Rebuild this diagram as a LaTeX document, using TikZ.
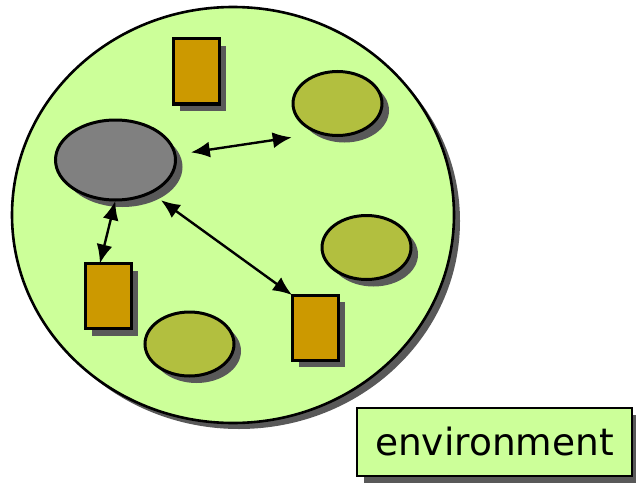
\documentclass[tikz,border=0pt]{standalone}
\usepackage{fontspec}
\setmainfont{DejaVu Sans}
\usetikzlibrary{shapes.geometric,shadows,arrows.meta}
\definecolor{envgreen}{HTML}{CCFF99}
\definecolor{agentgray}{HTML}{808080}
\definecolor{blobolive}{HTML}{B2BF3F}
\definecolor{boxorange}{HTML}{CC9900}
\definecolor{shadowgray}{HTML}{595959}
\newcommand{\ShadowOff}{7pt}
\newcommand{\BlobW}{89pt}
\newcommand{\BlobH}{64pt}
\newcommand{\BoxW}{46pt}
\newcommand{\BoxH}{65pt}
\tikzset{
  castshadow/.style={
    drop shadow={shadow xshift=#1,shadow yshift=-#1,fill=shadowgray,opacity=1}
  },
  worldblob/.style={
    ellipse,draw,line width=2.6pt,fill=envgreen,inner sep=0pt,outer sep=0pt,
    minimum width=442pt,minimum height=416pt,castshadow=6pt
  },
  agentblob/.style={
    ellipse,draw,line width=3pt,fill=agentgray,inner sep=0pt,outer sep=0pt,
    minimum width=120pt,minimum height=80pt,castshadow=\ShadowOff
  },
  thingblob/.style={
    ellipse,draw,line width=3pt,fill=blobolive,inner sep=0pt,outer sep=0pt,
    minimum width=\BlobW,minimum height=\BlobH,castshadow=\ShadowOff
  },
  thingbox/.style={
    rectangle,draw,line width=3pt,fill=boxorange,inner sep=0pt,outer sep=0pt,
    minimum width=\BoxW,minimum height=\BoxH,castshadow=\ShadowOff
  },
  labelbox/.style={
    rectangle,draw,line width=2.6pt,fill=envgreen,inner sep=0pt,outer sep=0pt,
    minimum width=275pt,minimum height=68pt,castshadow=\ShadowOff,
    font=\fontsize{37.5}{44}\selectfont
  },
  talk/.style={
    line width=2.4pt,
    {Latex[length=19pt,width=16pt]}-{Latex[length=19pt,width=16pt]}
  }
}

\begin{document}
\begin{tikzpicture}[x=1pt,y=-1pt]
  \useasboundingbox (0,0) rectangle (636,484);

  \node[worldblob] (world) at (233,215) {};

  \node[agentblob] (agent) at (115.5,160) {};
  \node[thingbox] (boxtop) at (196,71.5) {};
  \node[thingblob] (blobtop) at (337.5,103.5) {};
  \node[thingblob] (blobmid) at (366.5,247.5) {};
  \node[thingbox] (boxleft) at (108,296) {};
  \node[thingblob] (blobbot) at (189.5,344) {};
  \node[thingbox] (boxright) at (315,327.5) {};

  \draw[talk,shorten <=16pt,shorten >=29pt] (agent.5) -- (blobtop.240);
  \draw[talk,shorten <=1pt] (agent.270) -- (boxleft.104);
  \draw[talk,shorten <=13pt] (agent.-43) -- (boxright.north west);

  \node[labelbox] (envlabel) at (494.5,442) {environment};
\end{tikzpicture}
\end{document}
